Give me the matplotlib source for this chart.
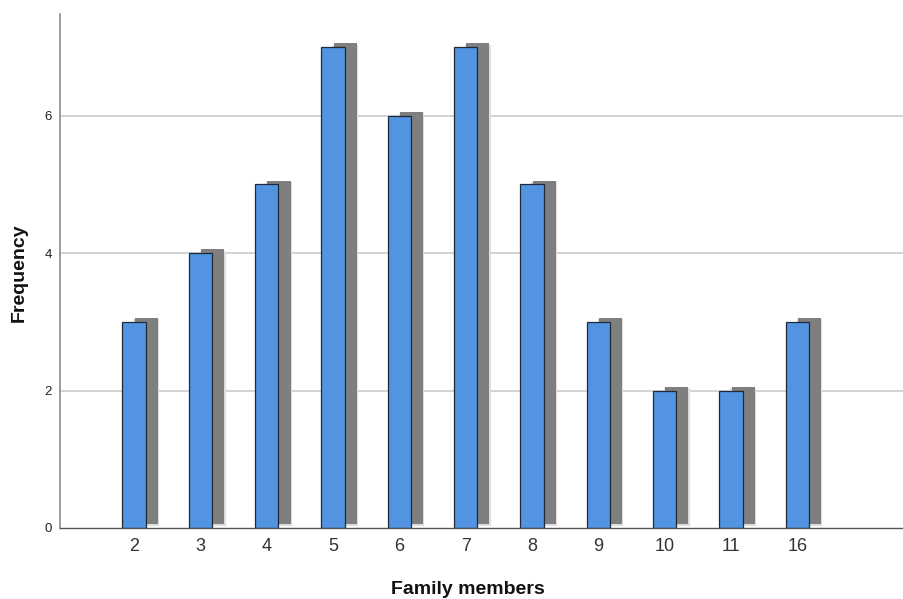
import matplotlib
matplotlib.use("Agg")
import matplotlib.pyplot as plt
import numpy as np

categories = ["2", "3", "4", "5", "6", "7", "8", "9", "10", "11", "16"]
frequency = [3, 4, 5, 7, 6, 7, 5, 3, 2, 2, 3]
yticks = [0, 2, 4, 6]

plt.rcParams['font.family'] = ['Liberation Sans', 'DejaVu Sans']

W, H = 904, 599
fig = plt.figure(figsize=(W / 100, H / 100), dpi=100)
ax = fig.add_axes([60 / W, (H - 528) / H, (W - 60) / W, (528 - 14) / H])

x = np.arange(len(categories))
bw = 0.35
dx = 0.185
dy = 0.055
vals = np.array(frequency, dtype=float)

# shadows (soft edge + core)
ax.bar(x + dx, vals, width=bw + 0.04, bottom=dy - 0.02, color='#dedede',
       edgecolor='none', zorder=2)
ax.bar(x + dx, vals, width=bw, bottom=dy, color='#7f7f7f',
       edgecolor='none', zorder=3)
# main bars
ax.bar(x, vals, width=bw, color='#5294e2', edgecolor='#1e2a38',
       linewidth=0.9, zorder=4)

ax.set_xlim(-1.116, 11.61)
ax.set_ylim(0, 7.48)
ax.set_yticks(yticks)
ax.set_yticklabels([str(t) for t in yticks], fontsize=9.5, color='#222222')
ax.set_xticks(x)
ax.set_xticklabels(categories, fontsize=13, color='#333333')
ax.tick_params(axis='both', length=0)
ax.tick_params(axis='y', pad=6)
ax.tick_params(axis='x', pad=7)

for t in yticks[1:]:
    ax.axhline(t, color='#cccccc', linewidth=1.2, zorder=1)

for s in ['top', 'right']:
    ax.spines[s].set_visible(False)
ax.spines['left'].set_color('#8c8c8c')
ax.spines['left'].set_linewidth(1.2)
ax.spines['bottom'].set_color('#555555')
ax.spines['bottom'].set_linewidth(1.0)
ax.spines['bottom'].set_zorder(5)

fig.text(468 / W, 1 - 589 / H, "Family members", ha='center', va='center',
         fontsize=14, fontweight='bold', color='#111111')
fig.text(19 / W, 1 - 273 / H, "Frequency", ha='center', va='center',
         rotation=90, fontsize=14, fontweight='bold', color='#111111')

fig.savefig("out.png", dpi=100)
